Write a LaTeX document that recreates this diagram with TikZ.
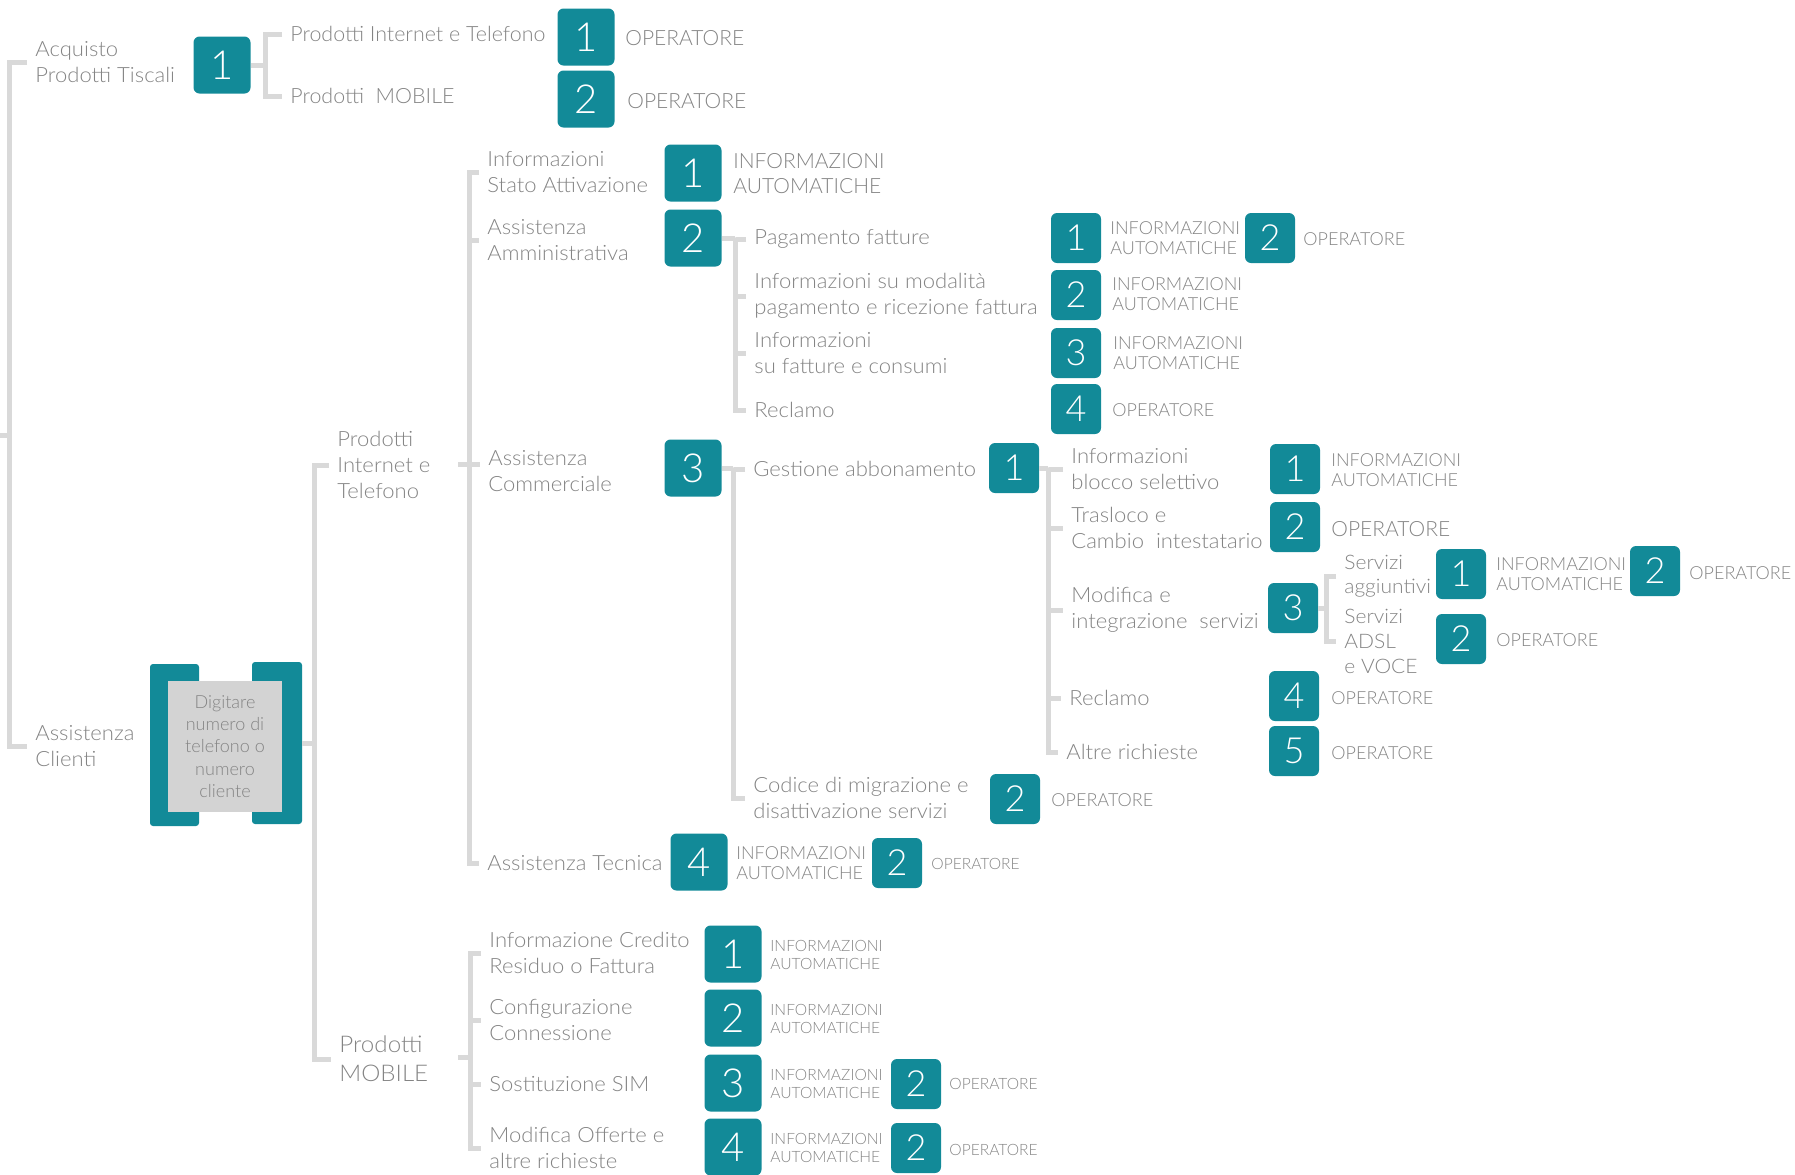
\documentclass[tikz,border=0pt]{standalone}
\usepackage{fontspec}
\setmainfont{Lato Light}
\newfontfamily\lblfont{Lato Light}[FakeStretch=1.05]
\newfontfamily\lblfontn{Lato Light}[FakeStretch=1.02]
\definecolor{tealbox}{RGB}{18,138,152}
\definecolor{linegray}{RGB}{217,217,217}
\definecolor{txtgray}{RGB}{132,132,132}
\definecolor{boxgray}{RGB}{211,211,211}

\begin{document}
\begin{tikzpicture}[x=0.5pt,y=-0.5pt,
  lbl/.style={anchor=west,inner sep=0pt,align=left,text=txtgray,yshift=-0.6pt,font=\lblfont\fontsize{10.5}{13}\selectfont},
  lbn/.style={lbl,font=\lblfontn\fontsize{10.5}{13}\selectfont},
  lbs/.style={lbl,font=\lblfont\fontsize{10}{12.4}\selectfont},
  opl/.style={lbl,font=\fontsize{10.5}{12.5}\selectfont},
  opm/.style={lbl,font=\fontsize{9}{10.2}\selectfont},
  ops/.style={lbl,font=\fontsize{7.8}{9.2}\selectfont},
  num/.style={fill=tealbox,rounded corners=3pt,minimum width=28.5pt,minimum height=28.5pt,inner sep=0pt,text=white,font=\fontsize{20}{20}\selectfont},
  nums/.style={num,minimum width=25pt,minimum height=25pt,font=\fontsize{18}{18}\selectfont},
  tealbar/.style={fill=tealbox,rounded corners=1.5pt,minimum width=25pt,minimum height=81pt,inner sep=0pt},
  graybox/.style={fill=boxgray,minimum width=57pt,minimum height=65.5pt,inner sep=0pt,align=center,text=txtgray,font=\fontsize{9}{11.2}\selectfont},
  ln/.style={draw=linegray,line width=2.5pt},
  brk/.style={ln,shorten <=4pt,shorten >=4pt},
  tk/.style={ln,shorten >=4pt}]
\useasboundingbox (0,0) rectangle (1795,1174);

\node[lbl] (acq) at (35,61) {Acquisto\\Prodotti Tiscali};
\node[lbl] (ass) at (35,745) {Assistenza\\Clienti};
\node[num] (a1) at (222,65) {1};
\node[lbn] (pit) at (290,33) {Prodotti Internet e Telefono};
\node[lbn] (pmo) at (290,95) {Prodotti\ \ MOBILE};
\node[num] (t1) at (586,37) {1};
\node[opl] (opt1) at (625,37) {OPERATORE};
\node[num] (t2) at (586,99) {2};
\node[opl] (opt2) at (627,100) {OPERATORE};

\node[tealbar,minimum width=24.5pt] (digl) at (174.5,745) {};
\node[tealbar] (digr) at (277,743) {};
\node[graybox] (dig) at (225,746.5) {Digitare\\numero di\\telefono o\\numero\\cliente};

\node[lbl] (pint) at (337,464) {Prodotti\\Internet e\\Telefono};
\node[lbl,font=\lblfont\fontsize{11.5}{14.5}\selectfont] (pmob) at (339,1058) {Prodotti\\MOBILE};

\node[lbl] (sta) at (487,171) {Informazioni\\Stato Attivazione};
\node[lbl] (amm) at (487,239) {Assistenza\\Amministrativa};
\node[lbl] (com) at (488,470) {Assistenza\\Commerciale};
\node[lbl] (tec) at (487,862) {Assistenza Tecnica};
\node[num] (s1) at (693,173) {1};
\node[opl] (ins1) at (733,172) {INFORMAZIONI\\AUTOMATICHE};
\node[num] (a2) at (693,238) {2};
\node[num] (c3) at (693,468) {3};
\node[num] (t4) at (699,862) {4};
\node[opm] (int4) at (736,862) {INFORMAZIONI\\AUTOMATICHE};
\node[nums] (t42) at (897,863) {2};
\node[ops] (opt42) at (931,863) {OPERATORE};

\node[lbl] (pag) at (754,238) {Pagamento fatture};
\node[lbl] (mod) at (754,295) {Informazioni su modalità\\pagamento e ricezione fattura};
\node[lbl] (fat) at (754,352) {Informazioni\\su fatture e consumi};
\node[lbl] (recA) at (754,409) {Reclamo};
\node[nums] (p1) at (1076,238) {1};
\node[opm] (inp1) at (1110,237) {INFORMAZIONI\\AUTOMATICHE};
\node[nums] (p2) at (1270,238) {2};
\node[opm] (opp2) at (1303,238) {OPERATORE};
\node[nums] (m2) at (1076,295) {2};
\node[opm] (inm2) at (1112,293) {INFORMAZIONI\\AUTOMATICHE};
\node[nums] (f3) at (1076,353) {3};
\node[opm] (inf3) at (1113,352) {INFORMAZIONI\\AUTOMATICHE};
\node[nums] (r4) at (1076,409) {4};
\node[opm] (opr4) at (1112,409) {OPERATORE};

\node[lbl] (ges) at (753,468) {Gestione abbonamento};
\node[lbl] (cod) at (753,797) {Codice di migrazione e\\disattivazione servizi};
\node[nums] (g1) at (1014,468) {1};
\node[nums] (cd2) at (1015,799) {2};
\node[opm] (opcd2) at (1051,799) {OPERATORE};

\node[lbl] (blo) at (1071,468) {Informazioni\\blocco selettivo};
\node[lbl] (tra) at (1071,527) {Trasloco e\\Cambio\ \ intestatario};
\node[lbl] (mdf) at (1071,609) {Modifica e\\integrazione\ \ servizi};
\node[lbl] (recG) at (1069,697) {Reclamo};
\node[lbl] (alt) at (1066,751) {Altre richieste};
\node[nums] (bl1) at (1295,469) {1};
\node[opm] (inbl1) at (1331,469) {INFORMAZIONI\\AUTOMATICHE};
\node[nums] (tr2) at (1295,527) {2};
\node[opl] (optr2) at (1331,528) {OPERATORE};
\node[nums] (md3) at (1293,608) {3};
\node[nums] (rg4) at (1294,696) {4};
\node[opm] (oprg4) at (1331,697) {OPERATORE};
\node[nums] (al5) at (1294,751) {5};
\node[opm] (opal5) at (1331,752) {OPERATORE};

\node[lbs] (sag) at (1344,575) {Servizi\\aggiuntivi};
\node[lbs] (sad) at (1344,640) {Servizi\\ADSL\\e VOCE};
\node[nums] (sa1) at (1461,574) {1};
\node[opm] (insa1) at (1496,573) {INFORMAZIONI\\AUTOMATICHE};
\node[nums] (sa2) at (1655,571) {2};
\node[opm] (opsa2) at (1689,572) {OPERATORE};
\node[nums] (sd2) at (1461,639) {2};
\node[opm] (opsd2) at (1496,639) {OPERATORE};

\node[lbl] (icr) at (489,952) {Informazione Credito\\Residuo o Fattura};
\node[lbl] (cfg) at (489,1019) {Configurazione\\Connessione};
\node[lbl] (sim) at (489,1083) {Sostituzione SIM};
\node[lbl] (mof) at (489,1147) {Modifica Offerte e\\altre richieste};
\node[num] (mo1) at (733,954) {1};
\node[ops] (inmo1) at (770,954) {INFORMAZIONI\\AUTOMATICHE};
\node[num] (mo2) at (733,1018) {2};
\node[ops] (inmo2) at (770,1018) {INFORMAZIONI\\AUTOMATICHE};
\node[num] (mo3) at (733,1083) {3};
\node[ops] (inmo3) at (770,1083) {INFORMAZIONI\\AUTOMATICHE};
\node[nums] (mo32) at (916,1084) {2};
\node[ops] (opmo32) at (949,1083) {OPERATORE};
\node[num] (mo4) at (733,1147) {4};
\node[ops] (inmo4) at (770,1147) {INFORMAZIONI\\AUTOMATICHE};
\node[nums] (mo42) at (916,1148) {2};
\node[ops] (opmo42) at (949,1149) {OPERATORE};

\coordinate (r0) at (0,435);
\coordinate (kR) at (9.5,435);
\coordinate (kA) at (265.5,65);
\coordinate (kP) at (314,743);
\coordinate (kI0) at (458,464);
\coordinate (kI) at (469,464);
\coordinate (kAm) at (735,238);
\coordinate (kCo) at (733,468);
\coordinate (kGe) at (1048,468);
\coordinate (kMd) at (1326,608);
\coordinate (kM0) at (458,1057);
\coordinate (kM) at (470,1057);

\draw[ln] (r0) -- (kR);
\draw[brk] (acq.west) -| (kR) |- (ass.west);
\draw[ln] (a1.east) -- (kA);
\draw[brk] (pit.west) -| (kA) |- (pmo.west);
\draw[ln] (digr.east) -- (kP);
\draw[brk] (pint.west) -| (kP) |- (pmob.west);
\draw[ln] (kI0) -- (kI);
\draw[brk] (sta.west) -| (kI) |- (tec.west);
\draw[tk] (kI |- amm.west) -- (amm.west);
\draw[tk] (kI) -- (com.west |- kI);
\draw[ln] (a2.east) -- (kAm);
\draw[brk] (pag.west) -| (kAm) |- (recA.west);
\draw[tk] (kAm |- mod.west) -- (mod.west);
\draw[tk] (kAm |- fat.west) -- (fat.west);
\draw[ln] (c3.east) -- (kCo);
\draw[brk] (ges.west) -| (kCo) |- (cod.west);
\draw[ln] (g1.east) -- (kGe);
\draw[brk] (blo.west) -| (kGe) |- (alt.west);
\draw[tk] (kGe |- tra.west) -- (tra.west);
\draw[tk] (kGe |- mdf.west) -- (mdf.west);
\draw[tk] (kGe |- recG.west) -- (recG.west);
\draw[ln] (md3.east) -- (kMd);
\draw[brk] (sag.west) -| (kMd) |- (sad.west);
\draw[ln] (kM0) -- (kM);
\draw[brk] (icr.west) -| (kM) |- (mof.west);
\draw[tk] (kM |- cfg.west) -- (cfg.west);
\draw[tk] (kM |- sim.west) -- (sim.west);
\end{tikzpicture}
\end{document}
